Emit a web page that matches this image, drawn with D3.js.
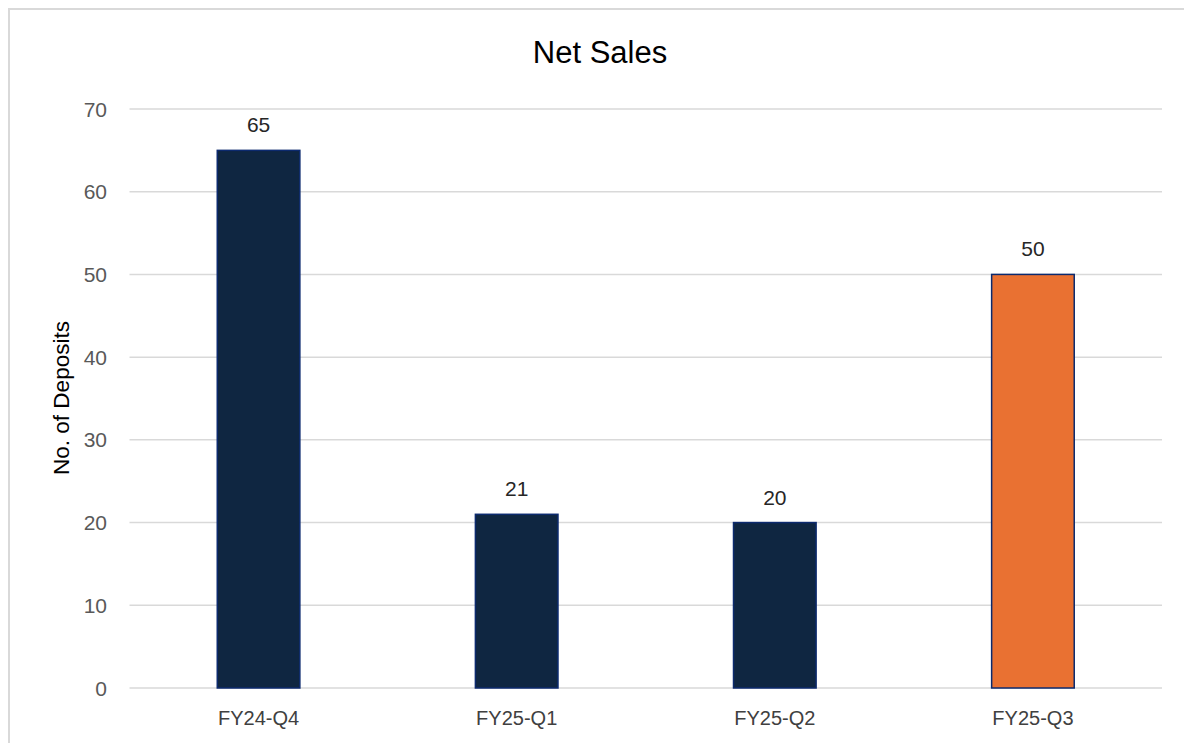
<!DOCTYPE html>
<html>
<head>
<meta charset="utf-8">
<script src="https://cdn.jsdelivr.net/npm/d3@7"></script>
<style>
  body { margin: 0; background: #fff; }
  svg text { font-family: "Liberation Sans", Arial, sans-serif; }
</style>
</head>
<body>
<div id="js_chart"></div>
<script>
// chart data
var categories = ["FY24-Q4", "FY25-Q1", "FY25-Q2", "FY25-Q3"];
var values = [65, 21, 20, 50];
var barColors = ["#0f2641", "#0f2641", "#0f2641", "#e97132"];
var yTicks = [0, 10, 20, 30, 40, 50, 60, 70];

var width = 1184, height = 743;
var plotLeft = 129.5, plotRight = 1162, plotTop = 109, plotBottom = 688;

var svg = d3.select("#js_chart").append("svg")
  .attr("width", width)
  .attr("height", height);

// outer chart border
svg.append("rect")
  .attr("x", 9).attr("y", 9)
  .attr("width", width + 10).attr("height", height + 10)
  .attr("fill", "none")
  .attr("stroke", "#d9d9d9")
  .attr("stroke-width", 2);

var x = d3.scaleBand()
  .domain(categories)
  .range([plotLeft, plotRight])
  .paddingInner(0.68)
  .paddingOuter(0.34);

var y = d3.scaleLinear()
  .domain([0, 70])
  .range([plotBottom, plotTop]);

// gridlines
svg.append("g")
  .selectAll("line")
  .data(yTicks)
  .enter().append("line")
  .attr("x1", plotLeft).attr("x2", plotRight)
  .attr("y1", function (d) { return y(d); })
  .attr("y2", function (d) { return y(d); })
  .attr("stroke", "#d9d9d9")
  .attr("stroke-width", 1.5);

// y tick labels
svg.append("g")
  .selectAll("text")
  .data(yTicks)
  .enter().append("text")
  .attr("x", 107)
  .attr("y", function (d) { return y(d); })
  .attr("dy", "0.36em")
  .attr("text-anchor", "end")
  .attr("fill", "#595959")
  .style("font-size", "21px")
  .text(function (d) { return d; });

// bars
svg.append("g")
  .selectAll("rect")
  .data(values)
  .enter().append("rect")
  .attr("x", function (d, i) { return x(categories[i]); })
  .attr("y", function (d) { return y(d); })
  .attr("width", x.bandwidth())
  .attr("height", function (d) { return y(0) - y(d); })
  .attr("fill", function (d, i) { return barColors[i]; })
  .attr("stroke", "#0c2a6e")
  .attr("stroke-width", 1.5);

// data labels
svg.append("g")
  .selectAll("text")
  .data(values)
  .enter().append("text")
  .attr("x", function (d, i) { return x(categories[i]) + x.bandwidth() / 2; })
  .attr("y", function (d) { return y(d) - 18; })
  .attr("text-anchor", "middle")
  .attr("fill", "#262626")
  .style("font-size", "21px")
  .text(function (d) { return d; });

// category labels
svg.append("g")
  .selectAll("text")
  .data(categories)
  .enter().append("text")
  .attr("x", function (d) { return x(d) + x.bandwidth() / 2; })
  .attr("y", 725)
  .attr("text-anchor", "middle")
  .attr("fill", "#404040")
  .style("font-size", "20px")
  .text(function (d) { return d; });

// title
svg.append("text")
  .attr("x", 600)
  .attr("y", 63)
  .attr("text-anchor", "middle")
  .attr("fill", "#000")
  .style("font-size", "31px")
  .text("Net Sales");

// y axis title
svg.append("text")
  .attr("transform", "translate(61,398) rotate(-90)")
  .attr("dy", "0.35em")
  .attr("text-anchor", "middle")
  .attr("fill", "#000")
  .style("font-size", "22.5px")
  .text("No. of Deposits");
</script>
</body>
</html>
